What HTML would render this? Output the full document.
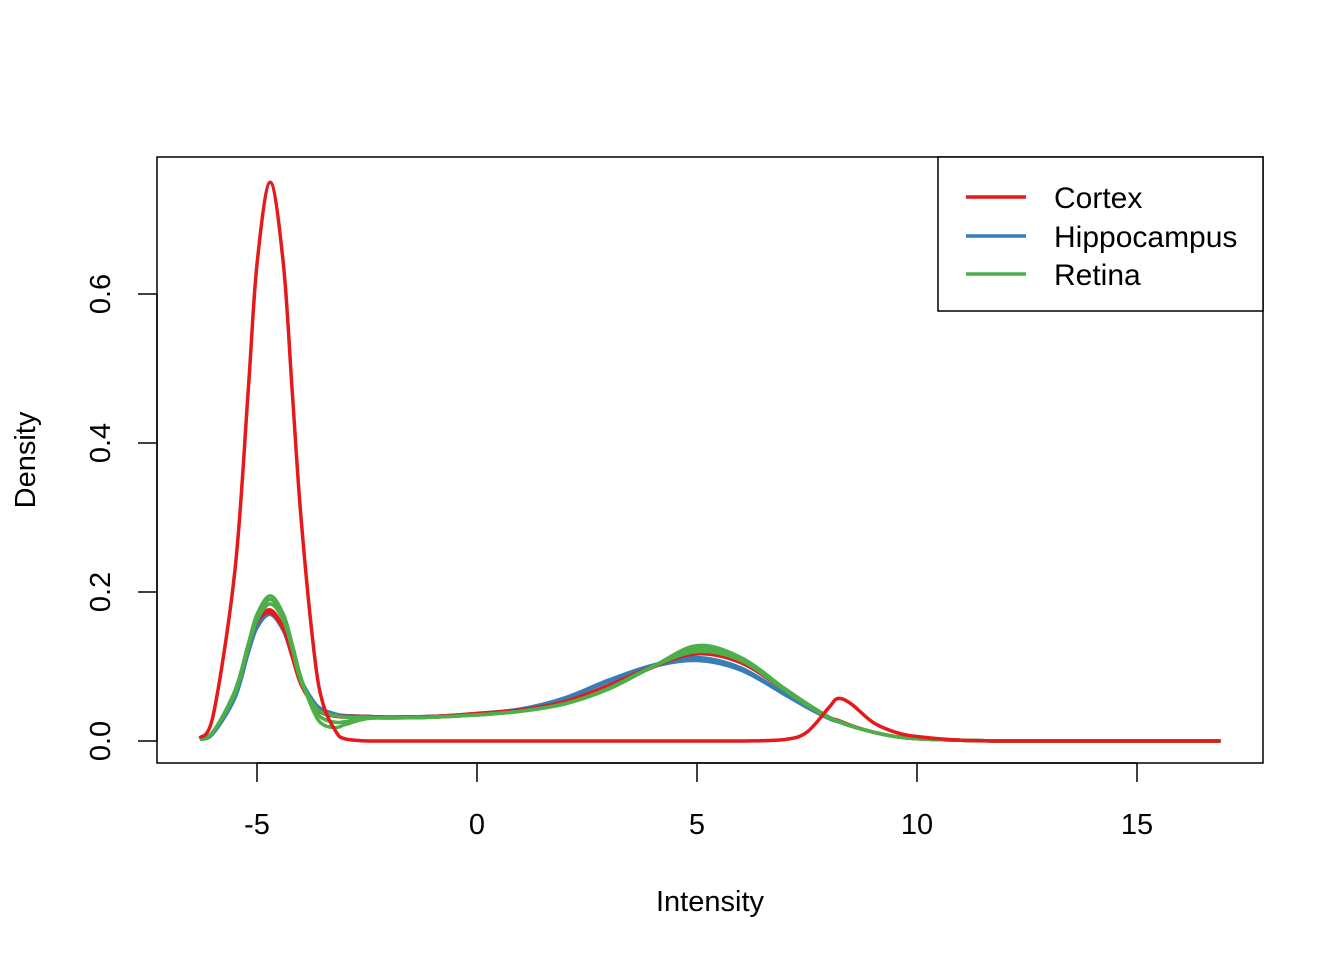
<!DOCTYPE html>
<html><head><meta charset="utf-8"><style>
body{margin:0;background:#fff}
svg text{font-family:"Liberation Sans",Arial,sans-serif;fill:#000}
</style></head><body>
<svg id="chart" width="1344" height="960" viewBox="0 0 1344 960" xmlns="http://www.w3.org/2000/svg">
<rect width="1344" height="960" fill="#fff"/>
<g id="curves"></g>
<rect x="157" y="157" width="1106" height="606" fill="none" stroke="#000" stroke-width="1.5"/>
<g id="axes"></g>
<text x="710" y="911" font-size="29" text-anchor="middle">Intensity</text>
<text x="0" y="0" font-size="29" text-anchor="middle" transform="translate(35,460) rotate(-90)">Density</text>
<g>
<rect x="938" y="157" width="325" height="154" fill="#fff" stroke="#000" stroke-width="1.5"/>
<line x1="966" y1="197" x2="1026" y2="197" stroke="#E41A1C" stroke-width="3.5"/>
<text x="1054" y="208" font-size="30">Cortex</text>
<line x1="966" y1="236" x2="1026" y2="236" stroke="#377EB8" stroke-width="3.5"/>
<text x="1054" y="247" font-size="30">Hippocampus</text>
<line x1="966" y1="274" x2="1026" y2="274" stroke="#4DAF4A" stroke-width="3.5"/>
<text x="1054" y="285" font-size="30">Retina</text>
</g>
</svg>
<script>
const xGrid=[-6.3,-6,-5.5,-5.2,-5,-4.7,-4.4,-4.2,-4,-3.7,-3.5,-3.2,-3,-2.5,-2,-1,0,1,2,3,4,5,6,7,7.5,8,8.2,8.5,9,9.5,10,11,12,14,16.9];
const cortexOutlier=[0.004,0.033,0.23,0.47,0.64,0.75,0.64,0.47,0.3,0.118,0.05,0.012,0.003,0,0,0,0,0,0,0,0,0,0,0.002,0.012,0.045,0.057,0.05,0.025,0.012,0.006,0.001,0,0,0];
const cortexA=[0.002,0.012,0.065,0.125,0.16,0.176,0.152,0.115,0.078,0.048,0.038,0.034,0.033,0.033,0.032,0.033,0.037,0.042,0.053,0.075,0.1,0.117,0.105,0.068,0.048,0.031,0.027,0.02,0.012,0.006,0.003,0.001,0,0,0];
const cortexB=[0.002,0.012,0.065,0.125,0.16,0.172,0.15,0.113,0.076,0.047,0.037,0.033,0.032,0.032,0.031,0.032,0.036,0.041,0.052,0.074,0.099,0.122,0.11,0.07,0.05,0.032,0.028,0.021,0.012,0.006,0.003,0.001,0,0,0];
const hippoA=[0.002,0.01,0.06,0.12,0.155,0.173,0.15,0.115,0.08,0.05,0.04,0.035,0.034,0.033,0.032,0.033,0.037,0.043,0.057,0.08,0.1,0.108,0.095,0.062,0.045,0.03,0.026,0.02,0.012,0.006,0.003,0.001,0,0,0];
const hippoB=[0.002,0.01,0.058,0.118,0.152,0.17,0.148,0.114,0.082,0.052,0.042,0.036,0.034,0.033,0.032,0.033,0.036,0.043,0.058,0.082,0.102,0.112,0.098,0.063,0.046,0.031,0.027,0.02,0.012,0.006,0.003,0.001,0,0,0];
const retinaA=[0.002,0.012,0.068,0.13,0.17,0.195,0.17,0.13,0.085,0.038,0.022,0.018,0.022,0.03,0.031,0.032,0.035,0.04,0.05,0.07,0.1,0.128,0.112,0.07,0.05,0.032,0.027,0.02,0.012,0.006,0.003,0.001,0,0,0];
const retinaB=[0.002,0.012,0.066,0.128,0.166,0.19,0.166,0.127,0.082,0.043,0.03,0.025,0.026,0.031,0.031,0.032,0.035,0.04,0.05,0.07,0.1,0.124,0.11,0.069,0.049,0.031,0.027,0.02,0.012,0.006,0.003,0.001,0,0,0];
const retinaC=[0.002,0.012,0.064,0.125,0.162,0.184,0.162,0.124,0.08,0.048,0.038,0.034,0.032,0.032,0.031,0.032,0.035,0.04,0.05,0.071,0.1,0.12,0.108,0.068,0.048,0.031,0.027,0.02,0.012,0.006,0.003,0.001,0,0,0];
const xTicks=[-5,0,5,10,15];
const yTicks=[0,0.2,0.4,0.6];
const yTickLabels=["0.0","0.2","0.4","0.6"];
const NS="http://www.w3.org/2000/svg";
const sx=v=>477+44*v;
const sy=v=>741-745*v;
function pathD(ys){
  const p=xGrid.map((x,i)=>[sx(x),sy(ys[i])]);
  let d="M"+p[0][0]+","+p[0][1];
  for(let i=0;i<p.length-1;i++){
    const p0=p[Math.max(0,i-1)],p1=p[i],p2=p[i+1],p3=p[Math.min(p.length-1,i+2)];
    let c1y=p1[1]+(p2[1]-p0[1])/6,c2y=p2[1]-(p3[1]-p1[1])/6;
    const lo=Math.max(p1[1],p2[1]);c1y=Math.min(c1y,Math.max(lo,741));c2y=Math.min(c2y,Math.max(lo,741));
    d+=" C"+(p1[0]+(p2[0]-p0[0])/6)+","+c1y+" "+(p2[0]-(p3[0]-p1[0])/6)+","+c2y+" "+p2[0]+","+p2[1];
  }
  return d;
}
const g=document.getElementById("curves");
const series=[[hippoA,"#377EB8","hippocampus-curve"],[hippoB,"#377EB8","hippocampus-curve"],[cortexA,"#E41A1C","cortex-curve"],[cortexB,"#E41A1C","cortex-curve"],[retinaC,"#4DAF4A","retina-curve"],[retinaB,"#4DAF4A","retina-curve"],[retinaA,"#4DAF4A","retina-curve"],[cortexOutlier,"#E41A1C","cortex-outlier-curve"]];
series.forEach(s=>{
  const el=document.createElementNS(NS,"path");
  el.setAttribute("d",pathD(s[0]));
  el.setAttribute("fill","none");
  el.setAttribute("stroke",s[1]);
  el.setAttribute("stroke-width","3.5");
  el.setAttribute("stroke-linejoin","round");
  
  
  g.appendChild(el);
});
const ax=document.getElementById("axes");
function add(tag,attrs,txt){const e=document.createElementNS(NS,tag);for(const k in attrs)e.setAttribute(k,attrs[k]);if(txt!==undefined)e.textContent=txt;ax.appendChild(e);return e;}
const xl=add("line",{x1:sx(xTicks[0]),x2:sx(xTicks[xTicks.length-1]),y1:763,y2:763,stroke:"#000","stroke-width":1.5});


xTicks.forEach(t=>{
  const l=add("line",{x1:sx(t),x2:sx(t),y1:763,y2:782,stroke:"#000","stroke-width":1.5});
  
  
  const tx=add("text",{x:sx(t),y:834,"font-size":29,"text-anchor":"middle"},String(t));
  
  
});
const yl=add("line",{x1:157,x2:157,y1:sy(yTicks[0]),y2:sy(yTicks[yTicks.length-1]),stroke:"#000","stroke-width":1.5});


yTicks.forEach((t,i)=>{
  const l=add("line",{x1:138,x2:157,y1:sy(t),y2:sy(t),stroke:"#000","stroke-width":1.5});
  
  
  const tx=add("text",{x:0,y:0,"font-size":29,"text-anchor":"middle",transform:"translate(110,"+sy(t)+") rotate(-90)"},yTickLabels[i]);
  
  
});
</script>
</body></html>
